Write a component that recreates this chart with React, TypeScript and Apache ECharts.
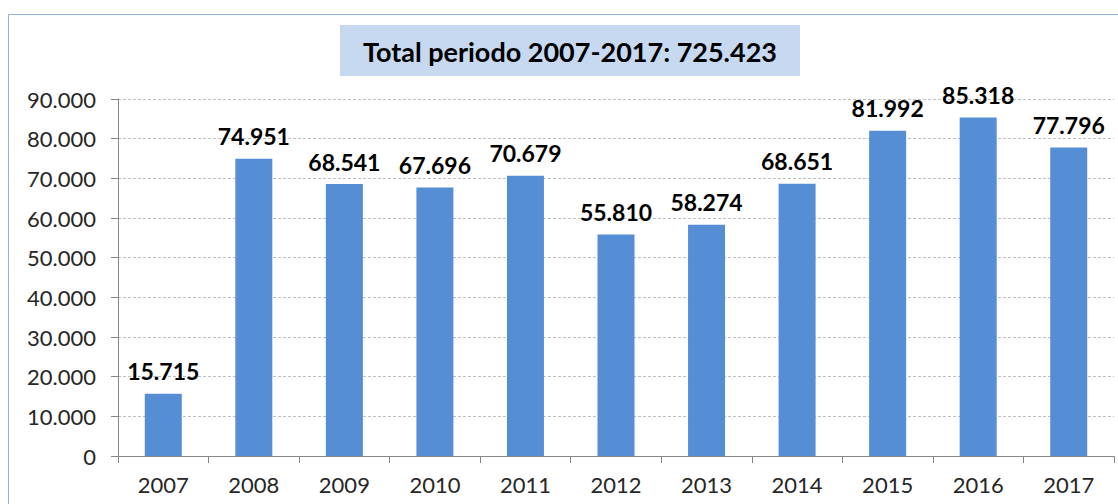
import React, { useEffect, useRef } from "react";
import * as echarts from "echarts";

const categories = ["2007", "2008", "2009", "2010", "2011", "2012", "2013", "2014", "2015", "2016", "2017"];
const values = [15715, 74951, 68541, 67696, 70679, 55810, 58274, 68651, 81992, 85318, 77796];
const titleText = "Total periodo 2007-2017: 725.423";

const fmt = (v: number) => {
  const s = String(Math.round(v));
  return s.replace(/\B(?=(\d{3})+(?!\d))/g, ".");
};

export default function App() {
  const ref = useRef<HTMLDivElement>(null);
  useEffect(() => {
    document.body.style.margin = "0";
    const chart = echarts.init(ref.current!, null, { renderer: "svg" });
    const font = "Lato, 'Open Sans', sans-serif";
    chart.setOption({
      animation: false,
      textStyle: { fontFamily: font },
      grid: { left: 118, right: 4, top: 99, bottom: 48 },
      graphic: [
        {
          type: "rect",
          shape: { x: 8.5, y: 14.5, width: 1130, height: 520 },
          style: { fill: "#fff", stroke: "#95B3D7", lineWidth: 1 },
          z: -10,
        },
        {
          type: "rect",
          shape: { x: 340, y: 25, width: 460, height: 51 },
          style: { fill: "#C6D9F1" },
        },
        {
          type: "text",
          x: 570,
          y: 51,
          style: {
            text: titleText,
            font: `bold 27px ${font}`,
            fill: "#000",
            align: "center",
            verticalAlign: "middle",
          },
        },
      ],
      xAxis: {
        type: "category",
        data: categories,
        axisLine: { show: true, lineStyle: { color: "#868686", width: 1 } },
        axisTick: { show: true, length: 7, lineStyle: { color: "#868686" } },
        axisLabel: { fontSize: 22, color: "#262626", margin: 17, fontFamily: font },
      },
      yAxis: {
        type: "value",
        min: 0,
        max: 90000,
        interval: 10000,
        axisLine: { show: true, lineStyle: { color: "#868686", width: 1 } },
        axisTick: { show: true, length: 7, lineStyle: { color: "#868686" } },
        splitLine: { show: true, lineStyle: { color: "#BFBFBF", type: [3, 2] } },
        axisLabel: { fontSize: 22, color: "#262626", margin: 22, formatter: (v: number) => fmt(v), fontFamily: font },
      },
      series: [
        {
          type: "bar",
          data: values,
          barWidth: 37,
          itemStyle: { color: "#558ED5" },
          label: {
            show: true,
            position: "top",
            distance: 11,
            fontSize: 23,
            fontWeight: "bold",
            color: "#000",
            fontFamily: font,
            formatter: (p: any) => fmt(p.value),
          },
        },
      ],
    });
    return () => chart.dispose();
  }, []);
  return <div ref={ref} style={{ width: 1118, height: 504 }} />;
}
